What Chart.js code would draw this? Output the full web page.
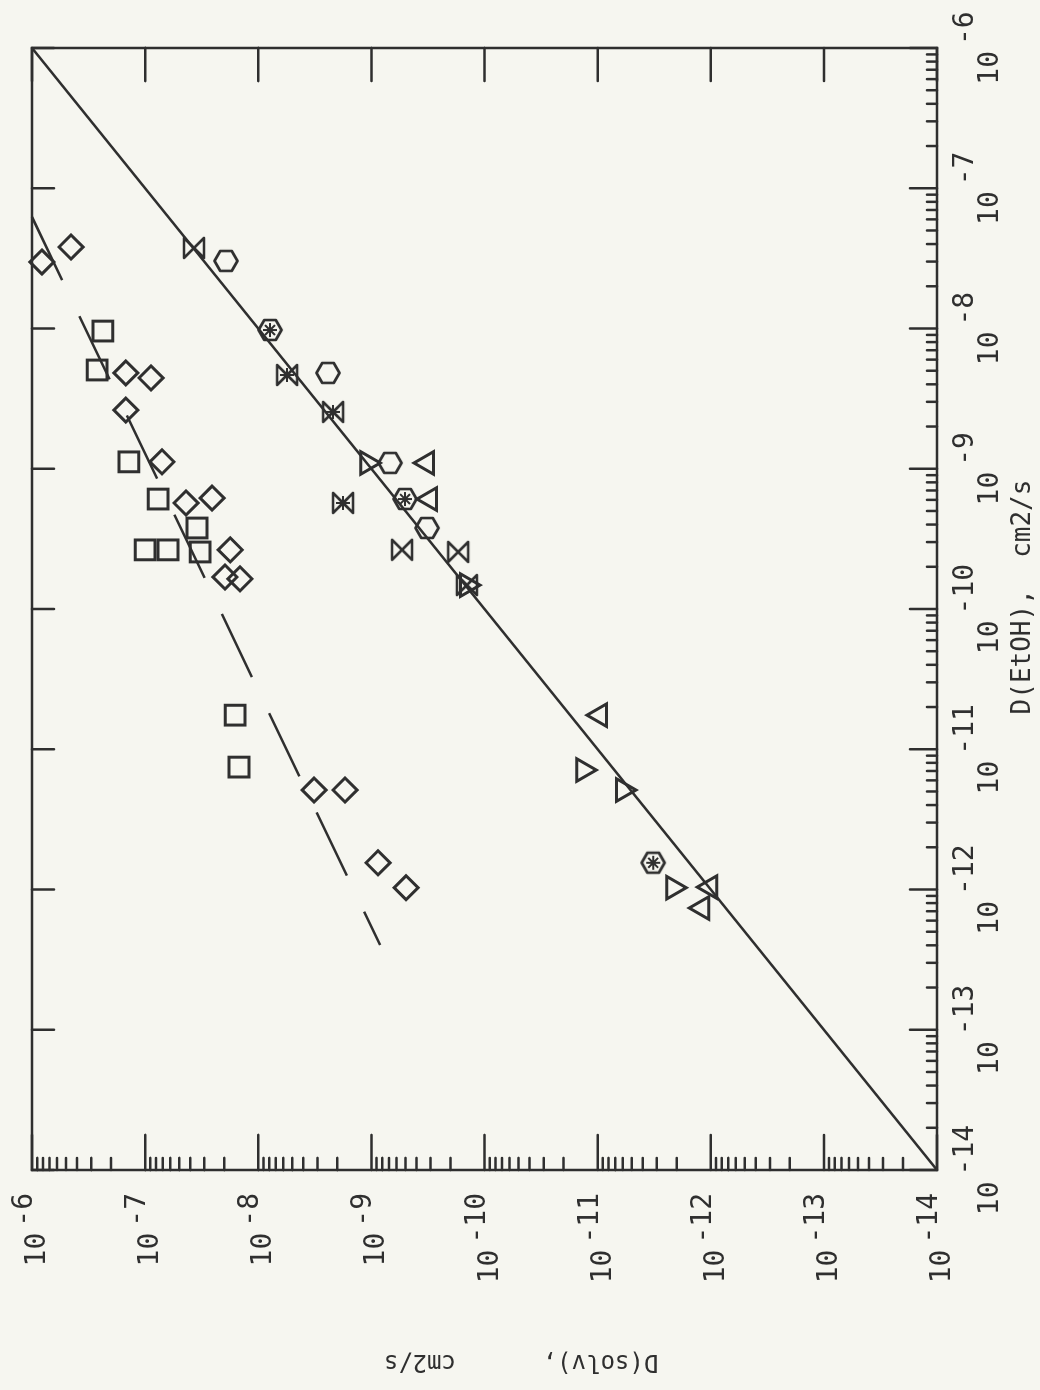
<!DOCTYPE html>
<html>
<head>
<meta charset="utf-8">
<script src="https://cdn.jsdelivr.net/npm/chart.js@4.4.1/dist/chart.umd.min.js"></script>
<style>
  html, body { margin: 0; padding: 0; background: #f6f6f0; overflow: hidden; }
  /* the chart is drawn landscape and turned a quarter turn to the left, like the scan */
  #wrap {
    position: absolute; left: 0; top: 0;
    width: 1390px; height: 1040px;
    transform-origin: 0 0;
    transform: translate(0, 1390px) rotate(-90deg);
  }
</style>
</head>
<body>
<div id="wrap"><canvas id="plot" width="1390" height="1040"></canvas></div>
<script>
// --- DATA (x = D(EtOH), y = D(solv), cm2/s) --- //
const decadeExps = [-14, -13, -12, -11, -10, -9, -8, -7, -6];
const tickExps = ['-14', '-13', '-12', '-11', '-10', '-9', '-8', '-7', '-6'];
const xTitle = 'D(EtOH),  cm2/s';
const yTitle = 'D(solv),      cm2/s';

const diamondX = [2.98e-8, 3.81e-8, 4.82e-9, 4.44e-9, 2.62e-9, 1.12e-9, 5.70e-10, 6.18e-10,
                  2.64e-10, 1.69e-10, 1.64e-10, 5.12e-12, 5.12e-12, 1.55e-12, 1.03e-12];
const diamondY = [8.17e-7, 4.52e-7, 1.48e-7, 8.87e-8, 1.48e-7, 7.10e-8, 4.35e-8, 2.56e-8,
                  1.77e-8, 1.97e-8, 1.45e-8, 3.21e-9, 1.71e-9, 8.73e-10, 4.93e-10];

const squareX = [9.59e-9, 5.06e-9, 1.12e-9, 6.08e-10, 3.78e-10, 2.64e-10, 2.64e-10, 2.55e-10, 1.75e-11, 7.46e-12];
const squareY = [2.36e-7, 2.66e-7, 1.39e-7, 7.69e-8, 3.48e-8, 1.00e-7, 6.28e-8, 3.27e-8, 1.60e-8, 1.48e-8];

const triUpX = [1.10e-9, 6.08e-10, 1.75e-11, 1.04e-12, 7.38e-13];
const triUpY = [3.22e-10, 3.03e-10, 9.51e-12, 1.01e-12, 1.19e-12];

const triDownX = [1.10e-9, 7.11e-12, 5.12e-12, 1.03e-12, 1.48e-10];
const triDownY = [1.09e-9, 1.34e-11, 5.96e-12, 2.15e-12, 1.43e-10];

const glassX = [3.75e-8, 4.66e-9, 2.54e-9, 5.70e-10, 2.64e-10, 2.55e-10, 1.48e-10];
const glassY = [3.70e-8, 5.56e-9, 2.18e-9, 1.78e-9, 5.36e-10, 1.71e-10, 1.43e-10];

const hexX = [3.03e-8, 9.75e-9, 4.82e-9, 1.10e-9, 6.08e-10, 3.78e-10, 1.55e-12];
const hexY = [1.93e-8, 7.87e-9, 2.42e-9, 6.84e-10, 5.04e-10, 3.22e-10, 3.23e-12];

const starX = [9.75e-9, 4.66e-9, 2.54e-9, 5.70e-10, 6.08e-10, 1.55e-12];
const starY = [7.87e-9, 5.56e-9, 2.18e-9, 1.78e-9, 5.04e-10, 3.23e-12];

const unityX = [1e-14, 1e-6];
const unityY = [1e-14, 1e-6];
const fitX = [6.24e-8, 4.02e-13];
const fitY = [1e-6, 8.38e-10];

// --- STYLE --- //
const INK = '#2f2f2f';
const FONT = '"DejaVu Sans Mono", monospace';

function pts(xs, ys) {
  return xs.map((x, i) => ({ x: x, y: ys[i] }));
}

// hourglass and hexagon symbols as small canvases
function symbol(size, draw) {
  const c = document.createElement('canvas');
  c.width = size; c.height = size;
  const g = c.getContext('2d');
  g.strokeStyle = INK; g.lineWidth = 2.6; g.lineJoin = 'round'; g.lineCap = 'round';
  draw(g, size);
  return c;
}
const hourglass = symbol(26, (g, s) => {
  g.beginPath();
  g.moveTo(3, 3); g.lineTo(s - 3, 3); g.lineTo(3, s - 3); g.lineTo(s - 3, s - 3); g.closePath();
  g.stroke();
});
const hexagon = symbol(28, (g, s) => {
  const r = 11.5, c = s / 2;
  g.beginPath();
  for (let k = 0; k < 6; k++) {
    const a = Math.PI / 2 + k * Math.PI / 3;
    const px = c + r * Math.cos(a), py = c + r * Math.sin(a);
    if (k === 0) g.moveTo(px, py); else g.lineTo(px, py);
  }
  g.closePath();
  g.stroke();
});

function markers(label, xs, ys, style, radius, extra) {
  return Object.assign({
    label: label,
    data: pts(xs, ys),
    showLine: false,
    pointStyle: style,
    pointRadius: radius,
    pointBorderWidth: 3,
    pointBorderColor: INK,
    pointBackgroundColor: 'rgba(0,0,0,0)',
    clip: false
  }, extra || {});
}

// --- FRAME, TICKS AND LABELS --- //
const frame = {
  id: 'frame',
  afterDraw(chart) {
    const ctx = chart.ctx;
    const a = chart.chartArea;
    const xs = chart.scales.x, ys = chart.scales.y;
    const seg = (x1, y1, x2, y2) => { ctx.beginPath(); ctx.moveTo(x1, y1); ctx.lineTo(x2, y2); ctx.stroke(); };

    ctx.save();
    ctx.strokeStyle = INK; ctx.fillStyle = INK;
    ctx.lineWidth = 2.5; ctx.lineCap = 'round';
    ctx.strokeRect(a.left, a.top, a.right - a.left, a.bottom - a.top);

    ctx.font = '28px ' + FONT;
    ctx.textBaseline = 'alphabetic';
    const wb = ctx.measureText('10').width;
    const gap = 6;

    decadeExps.forEach((e, i) => {
      const v = Math.pow(10, e);
      const px = xs.getPixelForValue(v);
      const py = ys.getPixelForValue(v);

      // major ticks point inward; opposite sides carry majors only
      seg(px, a.bottom, px, a.bottom - 27);
      seg(px, a.top, px, a.top + 22);
      seg(a.left, py, a.left + 35, py);
      seg(a.right, py, a.right - 33, py);

      if (i < decadeExps.length - 1) {
        for (let m = 2; m <= 9; m++) {
          const mx = xs.getPixelForValue(m * v);
          const my = ys.getPixelForValue(m * v);
          seg(mx, a.bottom, mx, a.bottom - 10);
          seg(a.left, my, a.left + 12, my);
        }
      }

      const ex = tickExps[i];
      const we = ctx.measureText(ex).width;

      // x tick label: 10 with raised exponent
      ctx.textAlign = 'left';
      const x0 = px - (wb + gap + we) / 2;
      ctx.fillText('10', x0, 998);
      ctx.fillText(ex, x0 + wb + gap, 973);

      // y tick label
      ctx.textAlign = 'right';
      const xr = a.left - 23;
      ctx.fillText(ex, xr, py);
      ctx.fillText('10', xr - we - gap, py + 13);
    });

    // axis titles
    ctx.textAlign = 'center';
    ctx.font = '26px ' + FONT;
    ctx.fillText(xTitle, (a.left + a.right) / 2 + 12, 1030);

    ctx.save();
    ctx.translate(35, 521);
    ctx.rotate(-Math.PI / 2);
    ctx.font = '24px ' + FONT;
    ctx.fillText(yTitle, 0, 0);
    ctx.restore();

    ctx.restore();
  }
};

// --- CHART --- //
const plot = new Chart(document.getElementById('plot').getContext('2d'), {
  type: 'scatter',
  data: {
    datasets: [
      {
        label: 'D(solv) = D(EtOH)',
        data: pts(unityX, unityY),
        showLine: true,
        borderColor: INK,
        borderWidth: 2.5,
        pointRadius: 0,
        clip: false
      },
      {
        label: 'fit',
        data: pts(fitX, fitY),
        showLine: true,
        borderColor: INK,
        borderWidth: 2.5,
        borderDash: [70, 40],
        pointRadius: 0,
        clip: false
      },
      markers('diamonds', diamondX, diamondY, 'rectRot', 12),
      markers('squares', squareX, squareY, 'rect', 14),
      markers('triangles up', triUpX, triUpY, 'triangle', 13),
      markers('triangles down', triDownX, triDownY, 'triangle', 13, { pointRotation: 180 }),
      markers('hourglass', glassX, glassY, hourglass, 12),
      markers('hexagons', hexX, hexY, hexagon, 12),
      markers('stars', starX, starY, 'star', 7, { pointBorderWidth: 2 })
    ]
  },
  options: {
    responsive: false,
    animation: false,
    events: [],
    layout: { padding: { top: 32, right: 48, bottom: 0, left: 0 } },
    plugins: { legend: { display: false }, tooltip: { enabled: false } },
    scales: {
      x: {
        type: 'logarithmic',
        position: 'bottom',
        min: 1e-14,
        max: 1e-6,
        ticks: { display: false },
        grid: { display: false },
        border: { display: false },
        afterFit: s => { s.height = 103; }
      },
      y: {
        type: 'logarithmic',
        position: 'left',
        min: 1e-14,
        max: 1e-6,
        ticks: { display: false },
        grid: { display: false },
        border: { display: false },
        afterFit: s => { s.width = 220; }
      }
    }
  },
  plugins: [frame]
});
</script>
</body>
</html>
